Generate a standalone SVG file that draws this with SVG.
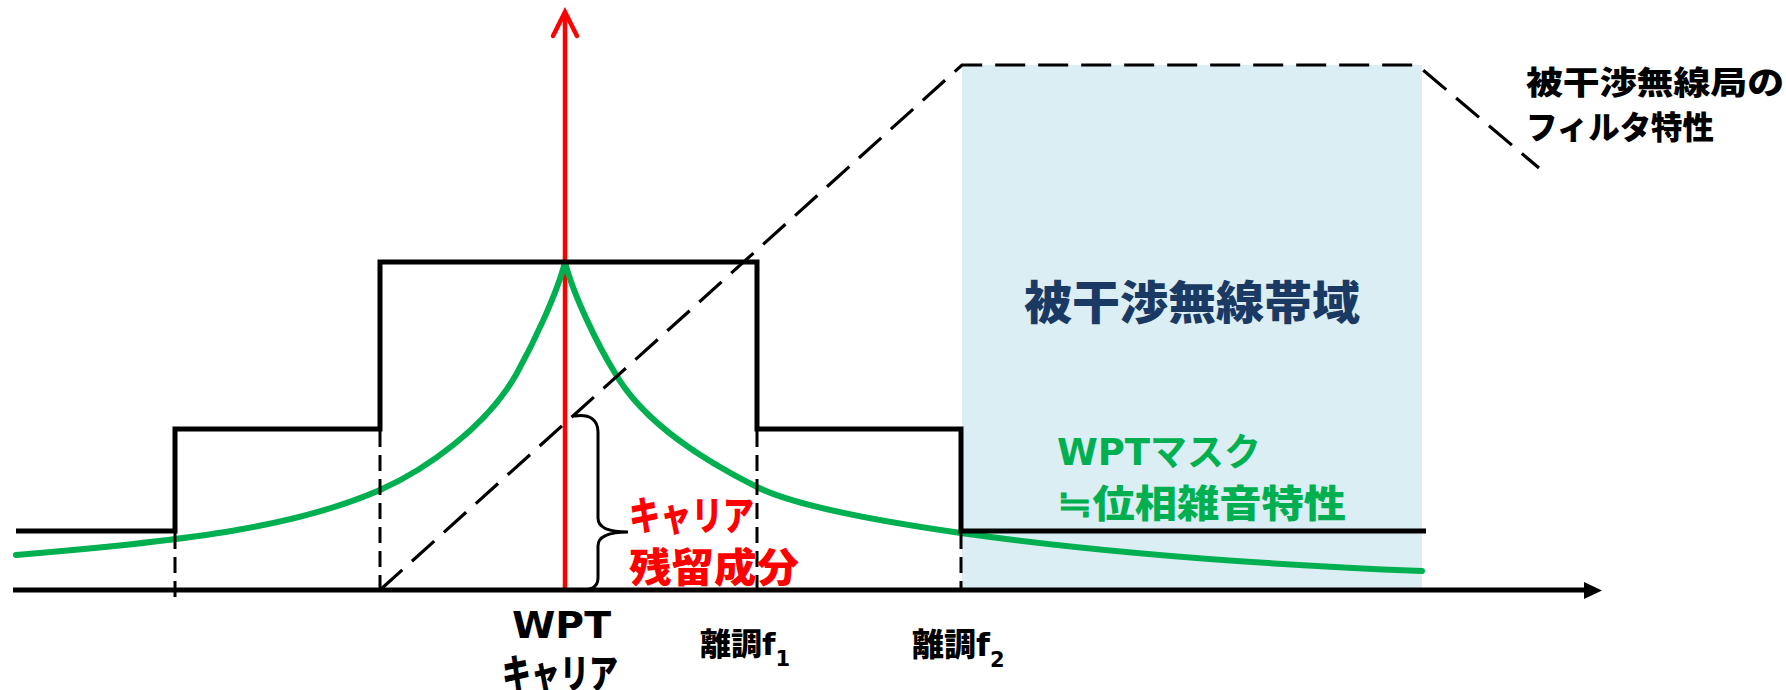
<svg xmlns="http://www.w3.org/2000/svg" width="1786" height="690" viewBox="0 0 1786 690">
<style>
.band{fill:#DAEEF3;}
.filt{fill:none;stroke:#000;stroke-width:3.2;stroke-dasharray:30 13;}
.vd{fill:none;stroke:#000;stroke-width:3;stroke-dasharray:16 8;}
.step{fill:none;stroke:#000;stroke-width:5;stroke-linejoin:miter;}
.green{fill:none;stroke:#00B050;stroke-width:6;stroke-linecap:round;}
.red{fill:none;stroke:#FF0000;stroke-width:4.5;}
.axis{fill:none;stroke:#000;stroke-width:5;}
.brace{fill:none;stroke:#000;stroke-width:3;stroke-linecap:round;}
.t{font-family:"DejaVu Sans","Noto Sans CJK JP",sans-serif;font-weight:bold;}
.j{font-family:"Noto Sans CJK JP",sans-serif;font-weight:900;}
</style>
<g id="band"><rect class="band" x="962" y="65" width="460" height="525"/></g>
<g id="connectors">
<g id="carrier">
<line class="red" x1="565" y1="590" x2="565" y2="14"/>
<path class="red" d="M553,36 L565,12 L577,36" stroke-linecap="round" stroke-linejoin="miter"/>
</g>
<path id="phase-noise" class="green" d="M16,555 C200,540 300,525 380,490 C425,470 487,427 517,373 C533,344 557,294 565,262 C573,294 597,344 615,373 C645,425 707,462 757,487 C797,507 891,523 961,533 C1111,554 1272,565 1422,571"/>
<polyline id="mask" class="step" points="16,531 175,531 175,429 380,429 380,262 757,262 757,429 961,429 961,531 1426,531"/>
<g id="guides">
<line class="vd" x1="175" y1="533" x2="175" y2="599"/>
<line class="vd" x1="380" y1="431" x2="380" y2="590"/>
<line class="vd" x1="757" y1="431" x2="757" y2="590"/>
<line class="vd" x1="961" y1="533" x2="961" y2="590"/>
</g>
<polyline id="filter" class="filt" points="380,590 962,65 1417,65 1539,168"/>
<g id="freq-axis">
<line class="axis" x1="13" y1="590" x2="1586" y2="590"/>
<polygon points="1584,582 1602,590.5 1584,599" fill="#000"/>
</g>
<path id="brace" class="brace" d="M575,416 C590,414 598,420 598,432 L598,518 C598,528 610,532 628,532 C610,532 598,536 598,546 L598,578 C598,588 590,591 575,590"/>
</g>
<g id="band-label"><text class="j" x="1024" y="319" font-size="46" fill="#1B3A63" textLength="336" lengthAdjust="spacingAndGlyphs">被干渉無線帯域</text></g>
<g id="filter-label">
<text class="j" x="1526" y="94" font-size="32" fill="#000" textLength="258" lengthAdjust="spacingAndGlyphs">被干渉無線局の</text>
<text class="j" x="1526" y="139" font-size="32" fill="#000" textLength="188" lengthAdjust="spacingAndGlyphs">フィルタ特性</text>
</g>
<g id="residual-label">
<text class="j" x="629" y="530" font-size="40" fill="#FF0000" textLength="125" lengthAdjust="spacingAndGlyphs">キャリア</text>
<text class="j" x="629" y="582" font-size="40" fill="#FF0000" textLength="170" lengthAdjust="spacingAndGlyphs">残留成分</text>
</g>
<g id="mask-label">
<text class="t" x="1057" y="465" font-size="38" fill="#00B050" textLength="204" lengthAdjust="spacingAndGlyphs">WPTマスク</text>
<text class="j" x="1057" y="517" font-size="38" fill="#00B050" textLength="289" lengthAdjust="spacingAndGlyphs">≒位相雑音特性</text>
</g>
<g id="wpt-label">
<text class="t" x="512" y="638" font-size="37" fill="#000" textLength="99" lengthAdjust="spacingAndGlyphs">WPT</text>
<text class="j" x="502" y="688" font-size="40" fill="#000" textLength="116" lengthAdjust="spacingAndGlyphs">キャリア</text>
</g>
<g id="f1-label"><text class="j" x="700" y="655" font-size="31" fill="#000">離調<tspan class="t">f</tspan><tspan class="t" font-size="21" dy="11">1</tspan></text></g>
<g id="f2-label"><text class="j" x="912" y="656" font-size="32" fill="#000">離調<tspan class="t">f</tspan><tspan class="t" font-size="21" dy="11">2</tspan></text></g>
</svg>
